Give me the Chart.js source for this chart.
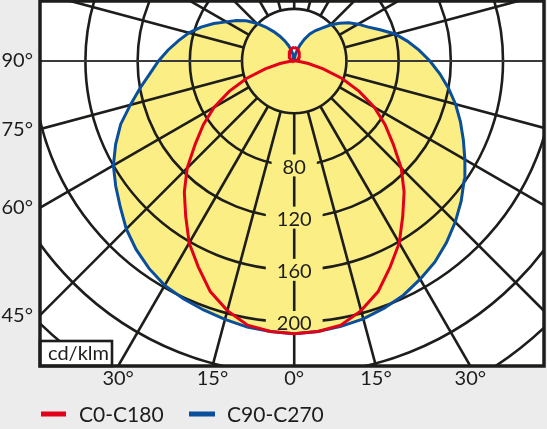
<!DOCTYPE html>
<html>
<head>
<meta charset="utf-8">
<script src="https://cdn.jsdelivr.net/npm/chart.js@4.4.0/dist/chart.umd.min.js"></script>
<style>
  html, body { margin: 0; padding: 0; background: #ececec; }
</style>
</head>
<body>
<canvas id="myChart" width="547" height="429"></canvas>
<script>
// polar angles (degrees from nadir), intensities in cd/klm
const angles = [0, 5, 10, 15, 20, 25, 30, 35, 40, 45, 50, 55, 60, 65, 70, 75, 80, 85, 90,
                95, 100, 105, 110, 115, 120, 125, 130, 135, 140, 145, 150, 155, 160, 165, 170, 175, 180];
const c0 = [209, 208, 205.5, 198, 188, 174, 161, 145, 131, 116, 99, 85, 71, 55, 39, 23, 11, 4, 1,
            0.8, 1.2, 1.7, 2.3, 2.9, 3.5, 4.2, 4.8, 5.4, 6.1, 6.8, 7.5, 8.2, 8.8, 9.4, 9.9, 10.2, 10.4];
const c180 = c0.slice();
const c90 = [209, 208, 206.5, 204.5, 201.5, 198, 193, 188, 181.5, 174.5, 167, 159, 151, 143, 135.5, 128, 120, 112, 104,
             96, 88, 80, 70, 62, 56.5, 51, 45, 39, 33, 28.5, 24, 18.5, 13, 8.5, 5, 2, 0];
const c270 = [209, 208, 207, 205, 203, 201, 198.5, 194, 188.5, 182, 174, 167, 160, 151, 141.5, 130, 120, 111, 104,
              97, 90, 83.5, 76, 68, 60, 54, 48, 41, 34, 27.5, 22, 17, 12.5, 8.5, 5, 2, 0];

const rings = [40, 80, 120, 160, 200, 240, 280, 320, 360];
const ringLabels = [80, 120, 160, 200];
const spokeStep = 15;
const xTickAngles = [-30, -15, 0, 15, 30];
const xTickLabels = ['30°', '15°', '0°', '15°', '30°'];
const yTickAngles = [90, 75, 60, 45];
const yTickLabels = ['90°', '75°', '60°', '45°'];
const seriesNames = ['C0-C180', 'C90-C270'];

// visible window of the diagram, in cd/klm
const xMin = -194.8, xMax = 191.4, yMin = -233.7, yMax = 46.0;

const red = '#e2001a';
const blue = '#0a4f9c';
const yellow = '#fbee84';
const ink = '#1d1d1b';
const fontFamily = 'Lato, "Open Sans", sans-serif';

const rad = d => d * Math.PI / 180;

function curve(left, right) {
    const pts = [];
    for (let i = angles.length - 1; i >= 0; i--) {
        pts.push({ x: -left[i] * Math.sin(rad(angles[i])), y: -left[i] * Math.cos(rad(angles[i])) });
    }
    for (let i = 1; i < angles.length; i++) {
        pts.push({ x: right[i] * Math.sin(rad(angles[i])), y: -right[i] * Math.cos(rad(angles[i])) });
    }
    return pts;
}

const polarGrid = {
    id: 'polarGrid',
    beforeDatasetsDraw(chart) {
        const { ctx, chartArea: a, scales: { x, y } } = chart;
        const cx = x.getPixelForValue(0), cy = y.getPixelForValue(0);
        const k = (x.getPixelForValue(100) - cx) / 100;
        ctx.save();
        ctx.fillStyle = '#ffffff';
        ctx.fillRect(a.left, a.top, a.right - a.left, a.bottom - a.top);
        ctx.beginPath();
        ctx.rect(a.left, a.top, a.right - a.left, a.bottom - a.top);
        ctx.clip();

        // yellow area inside the C90-C270 curve
        const pts = chart.getDatasetMeta(1).data;
        ctx.beginPath();
        pts.forEach((p, i) => i ? ctx.lineTo(p.x, p.y) : ctx.moveTo(p.x, p.y));
        ctx.closePath();
        ctx.fillStyle = yellow;
        ctx.fill();

        ctx.strokeStyle = ink;
        ctx.lineWidth = 2.6;
        rings.forEach(r => {
            ctx.beginPath();
            ctx.arc(cx, cy, r * k, 0, Math.PI * 2);
            ctx.stroke();
        });
        for (let deg = 0; deg < 360; deg += spokeStep) {
            const horiz = deg === 90 || deg === 270;
            ctx.lineWidth = horiz ? 2 : 2.6;
            ctx.strokeStyle = horiz ? '#3a3a3a' : ink;
            const s = Math.sin(rad(deg)), c = Math.cos(rad(deg));
            ctx.beginPath();
            ctx.moveTo(cx + s * rings[0] * k, cy + c * rings[0] * k);
            ctx.lineTo(cx + s * 900, cy + c * 900);
            ctx.stroke();
        }

        // value labels on the nadir line
        ctx.font = '20px ' + fontFamily;
        ctx.textAlign = 'center';
        ctx.textBaseline = 'middle';
        ringLabels.forEach(v => {
            const py = y.getPixelForValue(-v);
            const w = ctx.measureText(String(v)).width;
            ctx.fillStyle = yellow;
            ctx.fillRect(cx - w / 2 - 11, py - 11, w + 22, 22);
            ctx.fillStyle = ink;
            ctx.fillText(String(v), cx, py + 2);
        });
        ctx.restore();
    },
    afterDatasetsDraw(chart) {
        const { ctx, chartArea: a } = chart;
        ctx.save();
        // unit box
        ctx.fillStyle = '#ffffff';
        ctx.fillRect(a.left, a.bottom - 25, 72, 25);
        ctx.strokeStyle = ink;
        ctx.lineWidth = 2.6;
        ctx.strokeRect(a.left, a.bottom - 25, 72, 25);
        ctx.fillStyle = ink;
        ctx.font = '20px ' + fontFamily;
        ctx.textBaseline = 'alphabetic';
        ctx.fillText('cd/klm', a.left + 8, a.bottom - 6);
        // frame
        ctx.lineWidth = 3.5;
        ctx.strokeRect(a.left, a.top, a.right - a.left, a.bottom - a.top);
        ctx.restore();
    },
    afterDraw(chart) {
        const { ctx } = chart;
        ctx.save();
        ctx.font = '21px ' + fontFamily;
        ctx.textBaseline = 'middle';
        const items = [[41, 25, red, 79], [189, 26, blue, 227]];
        items.forEach((it, i) => {
            ctx.fillStyle = it[2];
            ctx.fillRect(it[0], 411.5, it[1], 5);
            ctx.fillStyle = ink;
            ctx.fillText(seriesNames[i], it[3], 415);
        });
        ctx.restore();
    }
};

new Chart('myChart', {
    type: 'scatter',
    data: {
        datasets: [
            { label: seriesNames[0], data: curve(c180, c0), showLine: true, borderColor: red, borderWidth: 3, pointRadius: 0, fill: false },
            { label: seriesNames[1], data: curve(c270, c90), showLine: true, borderColor: blue, borderWidth: 3, pointRadius: 0, fill: false }
        ]
    },
    options: {
        responsive: false,
        animation: false,
        devicePixelRatio: 1,
        layout: { padding: { top: 1, right: 3, left: 0, bottom: 0 } },
        plugins: { legend: { display: false }, tooltip: { enabled: false } },
        scales: {
            x: {
                type: 'linear', min: xMin, max: xMax,
                grid: { display: false, drawTicks: false },
                border: { display: false },
                afterFit: s => { s.height = 63; s.paddingLeft = 0; s.paddingRight = 0; },
                afterBuildTicks: s => { s.ticks = xTickAngles.map(d => ({ value: -yMin * Math.tan(rad(d)) })); },
                ticks: {
                    autoSkip: false, maxRotation: 0, padding: 1, color: ink,
                    font: { family: fontFamily, size: 20 },
                    callback: (v, i) => xTickLabels[i]
                }
            },
            y: {
                type: 'linear', min: yMin, max: yMax,
                grid: { display: false, drawTicks: false },
                border: { display: false },
                afterFit: s => { s.width = 40; s.paddingTop = 0; s.paddingBottom = 0; },
                afterBuildTicks: s => { s.ticks = yTickAngles.map(d => ({ value: xMin / Math.tan(rad(d)) })); },
                ticks: {
                    autoSkip: false, padding: 7, color: ink,
                    font: { family: fontFamily, size: 20 },
                    callback: (v, i) => yTickLabels[i]
                }
            }
        }
    },
    plugins: [polarGrid]
});
</script>
</body>
</html>
